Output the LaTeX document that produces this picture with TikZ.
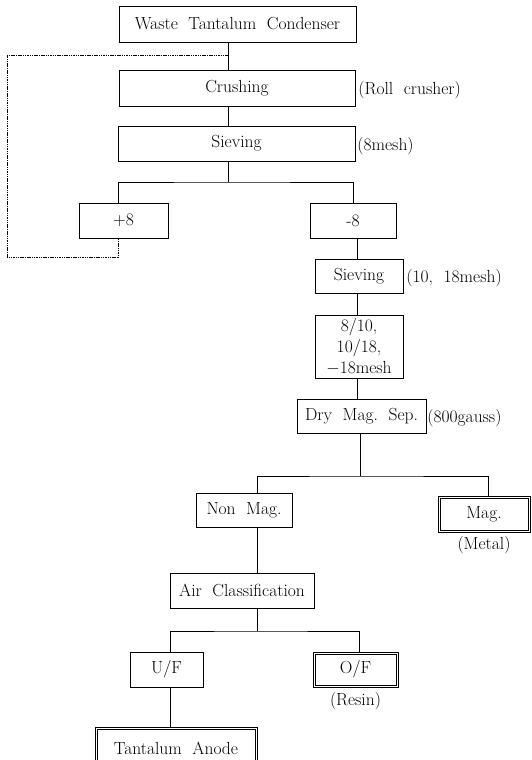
\documentclass[tikz,border=0pt]{standalone}
\usepackage{tikz}
\usetikzlibrary{positioning,calc}

\begin{document}
\begin{tikzpicture}[x=1pt,y=-1pt,line width=0.8pt,
    font=\fontsize{17.5}{21}\selectfont,
    proc/.style={draw,inner sep=0pt,align=center},
    note/.style={inner sep=0pt,anchor=west},
    loopline/.style={line width=0.5pt,dash pattern=on 1.5pt off 0.8pt}]
    \useasboundingbox (0,0) rectangle (531,760);
    % Boxes
    \node[proc,minimum width=237,minimum height=36] (waste) at (237.5,24) {Waste\ \ Tantalum\ \ Condenser};
    \node[proc,minimum width=236,minimum height=36] (crush) at (237,88) {Crushing};
    \node[proc,minimum width=237,minimum height=35] (sieveA) at (236.5,143.5) {Sieving};
    \node[proc,minimum width=89,minimum height=35] (plus) at (123.5,220.5) {+8};
    \node[proc,minimum width=86,minimum height=35] (minus) at (353,220.5) {-8};
    \node[proc,minimum width=88,minimum height=34] (sieveB) at (359,276) {Sieving};
    \node[proc,minimum width=88,minimum height=63] (frac) at (359,346.5) {8/10,\\10/18,\\$-$18mesh};
    \node[proc,minimum width=129,minimum height=34] (dry) at (361.5,416) {Dry\ \ Mag.\ \ Sep.};
    \node[proc,minimum width=96,minimum height=34] (nonmag) at (244,510) {Non\ \ Mag.};
    \node[proc,line width=0.7pt,minimum width=92,minimum height=36] (mag) at (484,514) {Mag.};
    \node[proc,minimum width=144,minimum height=35] (air) at (242,590.5) {Air\ \ Classification};
    \node[proc,minimum width=73,minimum height=35] (uf) at (166.5,669.5) {U/F};
    \node[proc,line width=0.7pt,minimum width=85,minimum height=35] (of) at (355.5,669.5) {O/F};
    \node[proc,line width=0.7pt,minimum width=162,minimum height=42] (anode) at (176,748) {Tantalum\ \ Anode};
    % Inner lines of the product boxes
    \foreach \b in {mag,of,anode}
        \draw[line width=0.7pt] ([shift={(2.2,2.2)}]\b.north west) rectangle ([shift={(-2.2,-2.2)}]\b.south east);
    % Notes
    \node[note] (nroll) at (358,90) {(Roll\ \ crusher)};
    \node[note] (nmesh) at (357,146) {(8mesh)};
    \node[note] (nmeshb) at (406,278) {(10,\ \ 18mesh)};
    \node[note] (ngauss) at (427,418) {(800gauss)};
    \node[below=4pt of mag,inner sep=0pt] (nmetal) {(Metal)};
    \node[below=5pt of of,inner sep=0pt] (nresin) {(Resin)};
    % Stems
    \coordinate (sA) at (228,0);
    \coordinate (sB) at (357,0);
    \coordinate (sC) at (257,0);
    \coordinate (sD) at (170,0);
    \draw (waste.south -| sA) -- (crush.north -| sA);
    \draw (crush.south -| sA) -- (sieveA.north -| sA);
    % Split 1
    \coordinate (jA) at (228,182);
    \draw (sieveA.south -| sA) -- (jA);
    \draw (plus.north -| 118,0) |- (jA) -| (minus.north);
    \draw (minus.south -| sB) -- (sieveB.north -| sB);
    \draw (sieveB.south -| sB) -- (frac.north -| sB);
    \draw (frac.south -| sB) -- (dry.north -| sB);
    % Split 2
    \coordinate (jB) at (360,476);
    \draw (dry.south -| jB) -- (jB);
    \draw (nonmag.north -| sC) |- (jB) -| (mag.north -| 488,0);
    \draw (nonmag.south -| sC) -- (air.north -| sC);
    % Split 3
    \coordinate (jC) at (257,631);
    \draw (air.south -| sC) -- (jC);
    \draw (uf.north -| sD) |- (jC) -| (of.north -| 359,0);
    \draw (uf.south -| sD) -- (anode.north -| sD);
    % Recycle
    \draw[loopline] (plus.south -| 118,0) |- (7,257) |- (228,55);
\end{tikzpicture}
\end{document}
